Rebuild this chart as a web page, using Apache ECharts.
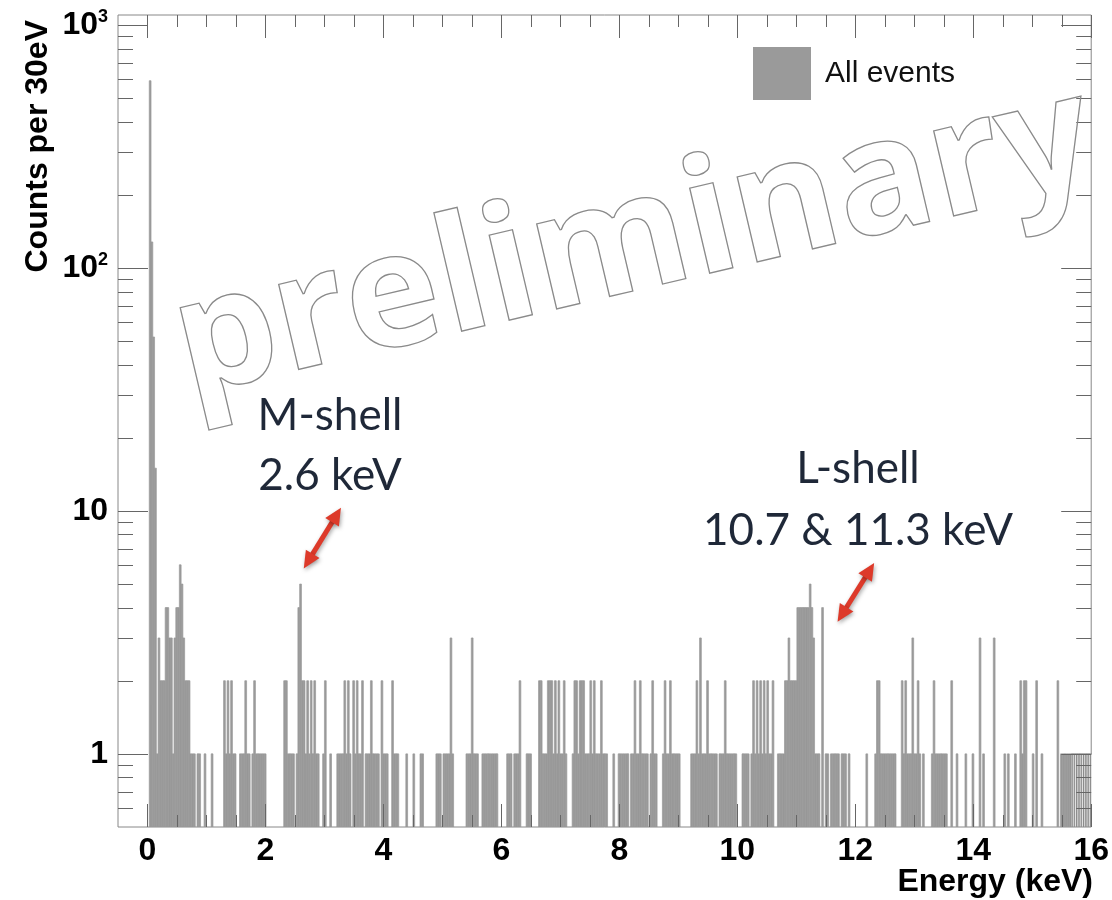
<!DOCTYPE html>
<html>
<head>
<meta charset="utf-8">
<script src="https://cdn.jsdelivr.net/npm/echarts@6/dist/echarts.min.js"></script>
<style>
html,body{margin:0;padding:0;background:#ffffff;}
#chart{width:1112px;height:900px;}
</style>
</head>
<body>
<div id="chart"></div>
<script>
// ---------------- data ----------------
const binWidthKeV = 0.03;   // 30 eV bins starting at 0 keV
// counts per 30 eV bin, 20 bins (0.6 keV) per row
const counts = [
  0,590,128,52,15,1,3,2,2,2,4,4,3,3,1,3,4,4,6,5,
  3,2,2,2,1,1,1,0,1,1,0,0,1,0,0,0,1,0,0,0,
  0,0,0,2,1,2,1,2,1,1,0,0,1,1,1,2,1,1,0,1,
  2,1,1,1,1,1,1,0,0,0,0,0,0,0,0,0,0,2,2,1,
  1,1,1,0,1,4,5,2,2,1,2,1,2,1,2,1,1,0,0,1,
  2,0,0,1,0,0,0,1,1,1,1,2,1,2,1,0,2,1,2,1,
  1,2,0,1,1,1,2,1,1,1,1,0,2,1,1,1,0,0,2,1,
  1,1,0,0,0,0,1,0,0,0,1,0,0,0,1,1,0,0,0,0,
  0,0,0,1,1,1,0,1,1,1,1,3,1,0,0,0,0,0,0,0,
  1,1,1,3,1,1,1,0,0,1,1,1,1,1,1,1,1,1,0,0,
  0,0,0,1,1,1,0,1,1,1,2,0,0,0,1,1,1,0,0,0,
  0,2,2,1,1,1,2,2,2,1,2,1,2,1,1,2,1,0,0,0,
  1,2,2,1,2,2,2,1,1,1,2,1,2,1,1,1,2,1,1,1,
  0,0,0,1,0,0,1,1,1,1,1,1,0,1,1,2,1,1,2,1,
  1,1,1,0,1,2,1,1,0,0,0,1,2,1,1,2,1,1,1,1,
  1,0,0,0,0,0,0,1,1,1,2,1,3,1,1,1,2,1,1,1,
  1,1,0,1,1,1,2,1,1,1,1,1,1,0,0,0,1,1,1,1,
  0,1,2,1,2,1,2,1,2,1,2,1,1,2,0,0,1,1,1,1,
  2,2,3,2,2,2,2,4,4,4,4,4,4,4,5,4,3,1,1,1,
  0,4,0,1,1,0,1,1,1,1,1,0,1,1,1,0,1,0,0,0,
  0,0,0,0,0,0,1,0,0,0,0,1,2,2,1,1,1,1,1,1,
  1,1,1,0,0,0,2,1,2,1,1,1,3,1,1,2,1,0,1,0,
  0,0,0,1,2,1,1,1,1,1,1,1,0,0,2,0,0,1,0,0,
  0,0,1,0,0,0,1,0,0,0,3,0,1,0,0,0,0,0,3,0,
  0,0,0,0,1,0,1,0,0,0,1,0,0,2,1,2,2,0,0,0,
  1,0,2,0,0,1,0,0,0,0,0,0,0,0,2,0,1,1,1,1,
  1,1,1,1,1,1,1,1,1,1,1,1,1,1
];
// last bins (from 15.66 keV) are drawn as outlined cells in the reference
const outlinedFromBin = 522;
const xTickLabels = [0, 2, 4, 6, 8, 10, 12, 14, 16];
const xMinorTicks = [0.5, 1, 1.5, 2.5, 3, 3.5, 4.5, 5, 5.5, 6.5, 7, 7.5, 8.5, 9, 9.5,
                     10.5, 11, 11.5, 12.5, 13, 13.5, 14.5, 15, 15.5];
const yMajorTicks = [1, 10, 100, 1000];
const yMinorTicks = [0.6, 0.7, 0.8, 0.9, 2, 3, 4, 5, 6, 7, 8, 9,
                     20, 30, 40, 50, 60, 70, 80, 90, 200, 300, 400, 500, 600, 700, 800, 900];
const seriesName = 'All events';
const xTitle = 'Energy (keV)';
const yTitle = 'Counts per 30eV';
const watermarkText = 'preliminary';
const annotationM = ['M-shell', '2.6 keV'];
const annotationL = ['L-shell', '10.7 & 11.3 keV'];
// arrows given as [keV, counts] end points
const arrowM = [[2.65, 5.8], [3.28, 10.3]];
const arrowL = [[11.70, 3.5], [12.32, 6.1]];

// ---------------- chart ----------------
const X_MIN = -0.5, X_MAX = 16, Y_MIN = 0.5, Y_MAX = 1100;
const BAR_COLOR = '#9a9a9a';
const TICK_COLOR = '#666666';
const AXIS_FONT = '"Liberation Sans", Arial, Helvetica, sans-serif';
const NOTE_FONT = 'Lato, "Open Sans", sans-serif';
const NOTE_COLOR = '#1f2838';

const histData = [];
counts.forEach((c, i) => { if (c > 0) histData.push([i * binWidthKeV, c, i >= outlinedFromBin ? 1 : 0]); });

const chart = echarts.init(document.getElementById('chart'), null, {renderer: 'canvas'});

function renderBin(params, api) {
  const e = api.value(0), c = api.value(1), outlined = api.value(2);
  const top = api.coord([e, c]);
  const bot = api.coord([e + binWidthKeV, Y_MIN]);
  return {
    type: 'rect',
    shape: {x: top[0], y: top[1], width: bot[0] - top[0], height: bot[1] - top[1]},
    style: outlined
      ? {fill: '#ffffff', stroke: '#8a8a8a', lineWidth: 1}
      : {fill: BAR_COLOR, stroke: BAR_COLOR, lineWidth: 0.7}
  };
}

function renderTicks(params, api) {
  const cs = params.coordSys;
  const left = cs.x, right = cs.x + cs.width, top = cs.y, bottom = cs.y + cs.height;
  const children = [];
  const line = (x1, y1, x2, y2) => children.push({
    type: 'line', shape: {x1, y1, x2, y2},
    style: {stroke: TICK_COLOR, lineWidth: 1}
  });
  const xt = (v, len) => {
    const px = Math.round(api.coord([v, Y_MIN])[0]) + 0.5;
    line(px, bottom, px, bottom - len);
    line(px, top, px, top + len);
  };
  const yt = (v, len) => {
    const py = Math.round(api.coord([X_MIN, v])[1]) + 0.5;
    line(left, py, left + len, py);
    line(right, py, right - len, py);
  };
  xTickLabels.forEach(v => xt(v, 23));
  xMinorTicks.forEach(v => xt(v, 12));
  yMajorTicks.forEach(v => yt(v, 30));
  yMinorTicks.forEach(v => yt(v, 15));
  return {type: 'group', children};
}

chart.setOption({
  animation: false,
  backgroundColor: '#ffffff',
  grid: {left: 118, right: 18, top: 15, bottom: 73, show: true,
         borderColor: '#888888', borderWidth: 1, backgroundColor: 'transparent'},
  legend: {
    data: [seriesName], left: 753, top: 47, padding: 0, icon: 'rect',
    itemWidth: 58, itemHeight: 53, selectedMode: false,
    itemStyle: {color: BAR_COLOR},
    textStyle: {fontSize: 30, fontFamily: AXIS_FONT, color: '#111111', padding: [0, 0, 0, 9]}
  },
  xAxis: {
    type: 'value', min: X_MIN, max: X_MAX,
    axisLine: {show: false}, axisTick: {show: false}, splitLine: {show: false},
    axisLabel: {
      customValues: xTickLabels, margin: 8,
      fontSize: 32, fontWeight: 'bold', fontFamily: AXIS_FONT, color: '#000000'
    }
  },
  yAxis: {
    type: 'log', logBase: 10, min: Y_MIN, max: Y_MAX,
    axisLine: {show: false}, axisTick: {show: false}, splitLine: {show: false},
    axisLabel: {
      margin: 10, showMinLabel: true, showMaxLabel: true,
      formatter: v => {
        const e = Math.log10(v), r = Math.round(e);
        if (Math.abs(e - r) > 1e-6) return '';
        if (r === 0) return '{b|1}';
        if (r === 1) return '{b|10}';
        return '{b|10}{s|' + r + '}';
      },
      rich: {
        b: {fontSize: 32, fontWeight: 'bold', fontFamily: AXIS_FONT, color: '#000', lineHeight: 34},
        s: {fontSize: 18, fontWeight: 'bold', fontFamily: AXIS_FONT, color: '#000', verticalAlign: 'top', lineHeight: 34}
      }
    }
  },
  series: [
    {
      type: 'custom', name: seriesName, data: histData,
      encode: {x: 0, y: 1}, renderItem: renderBin,
      itemStyle: {color: BAR_COLOR}, clip: true, silent: true, z: 2
    },
    {
      type: 'custom', name: 'ticks', data: [[0, 1]],
      renderItem: renderTicks, clip: false, silent: true, z: 5
    }
  ]
});

// ---------------- overlays (titles, watermark, notes, arrows) ----------------
function arrowGroup(pA, pB) {
  const [x1, y1] = chart.convertToPixel({gridIndex: 0}, pA);
  const [x2, y2] = chart.convertToPixel({gridIndex: 0}, pB);
  const ang = Math.atan2(y2 - y1, x2 - x1);
  const hl = 17, hw = 8;
  const head = (x, y, a) => {
    const bx = x - hl * Math.cos(a), by = y - hl * Math.sin(a);
    return [[x, y],
            [bx + hw * Math.sin(a), by - hw * Math.cos(a)],
            [bx - hw * Math.sin(a), by + hw * Math.cos(a)]];
  };
  const sh = {shadowBlur: 4, shadowColor: 'rgba(0,0,0,0.35)', shadowOffsetX: 1, shadowOffsetY: 2};
  const red = '#dd3a2a';
  return {
    type: 'group', z: 120,
    children: [
      {type: 'line', shape: {x1: x1 + 12 * Math.cos(ang), y1: y1 + 12 * Math.sin(ang),
                             x2: x2 - 12 * Math.cos(ang), y2: y2 - 12 * Math.sin(ang)},
       style: Object.assign({stroke: red, lineWidth: 5}, sh)},
      {type: 'polygon', shape: {points: head(x2, y2, ang)}, style: Object.assign({fill: red}, sh)},
      {type: 'polygon', shape: {points: head(x1, y1, ang + Math.PI)}, style: Object.assign({fill: red}, sh)}
    ]
  };
}

function noteText(x, y, text) {
  return {
    type: 'text', x, y, z: 120,
    style: {text, fontSize: 44, fontFamily: NOTE_FONT, fill: NOTE_COLOR,
            align: 'center', verticalAlign: 'middle'}
  };
}

chart.setOption({
  graphic: [
    {type: 'text', x: 38, y: 20, rotation: Math.PI / 2, z: 110,
     style: {text: yTitle, fontSize: 32, fontWeight: 'bold', fontFamily: AXIS_FONT,
             fill: '#000', align: 'right', verticalAlign: 'middle'}},
    {type: 'text', x: 1093, y: 882, z: 110,
     style: {text: xTitle, fontSize: 32, fontWeight: 'bold', fontFamily: AXIS_FONT,
             fill: '#000', align: 'right', verticalAlign: 'middle'}},
    {type: 'text', x: 634, y: 244, rotation: 13.2 * Math.PI / 180, scaleX: 1.0, scaleY: 1, z: 100, silent: true,
     style: {text: watermarkText, fontSize: 160, fontWeight: 'bold', fontFamily: '"Open Sans", sans-serif',
             fill: 'none', stroke: '#8a8a8a', lineWidth: 1.3, align: 'center', verticalAlign: 'middle'}},
    noteText(330, 416, annotationM[0]),
    noteText(330, 476, annotationM[1]),
    noteText(858, 469, annotationL[0]),
    noteText(858, 531, annotationL[1]),
    arrowGroup(arrowM[0], arrowM[1]),
    arrowGroup(arrowL[0], arrowL[1])
  ]
});
</script>
</body>
</html>
